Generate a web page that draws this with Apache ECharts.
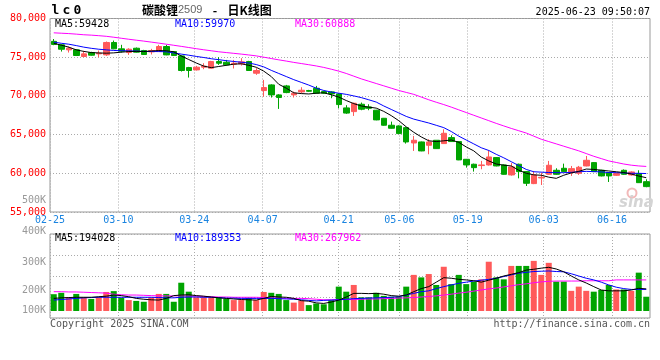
<!DOCTYPE html>
<html>
<head>
<meta charset="utf-8">
<script src="https://cdn.jsdelivr.net/npm/echarts@6/dist/echarts.min.js"></script>
<style>
html,body{margin:0;padding:0;background:#fff;}
#chart{width:660px;height:360px;}
</style>
</head>
<body>
<div id="chart"></div>
<script>
// ---------- data ----------
const DATES = ['02-25','02-26','02-27','02-28','03-03','03-04','03-05','03-06','03-07','03-10',
'03-11','03-12','03-13','03-14','03-17','03-18','03-19','03-20','03-21','03-24',
'03-25','03-26','03-27','03-28','03-31','04-01','04-02','04-03','04-07','04-08',
'04-09','04-10','04-11','04-14','04-15','04-16','04-17','04-18','04-21','04-22',
'04-23','04-24','04-25','04-28','04-29','04-30','05-06','05-07','05-08','05-09',
'05-12','05-13','05-14','05-15','05-16','05-19','05-20','05-21','05-22','05-23',
'05-26','05-27','05-28','05-29','05-30','06-03','06-04','06-05','06-06','06-09',
'06-10','06-11','06-12','06-13','06-16','06-17','06-18','06-19','06-20','06-23'];

const OPEN = [77050,76600,75950,75950,75090,75600,75430,75300,76900,76080,
75600,76160,75860,75690,75730,76380,75730,75170,73660,73360,
73710,73580,74440,74350,74100,74140,74440,72930,70690,71420,
70130,71290,70130,70520,70690,70990,70560,70520,70250,68450,
67970,68920,68580,68150,67110,66210,66120,65900,63920,64050,
63620,64270,63840,64610,64100,61810,61170,61000,61080,62030,
61080,59790,61170,60220,58670,59400,59870,60390,60650,60090,
60000,60950,61380,60390,60090,59740,60390,59790,59960,58920];
const CLOSE = [76650,76030,76160,75220,75430,75260,75520,76900,76080,75780,
76030,75650,75350,75860,76380,75300,75220,73280,73280,73710,
73840,74440,74220,74010,74220,74400,73280,73280,71080,70130,
69790,70430,70350,70730,70600,70350,70350,70260,68880,67780,
69050,68280,68400,66900,66210,65820,65130,64050,64270,62890,
64050,63190,65170,64100,61730,61080,60730,61080,62110,60950,
59870,60820,60220,58710,59790,59480,61040,59870,60220,60600,
60780,61680,60220,59660,59660,59960,59870,60170,58790,58280];
const LOW = [76550,75730,75600,75150,75000,75200,75000,75170,76030,75600,
75300,75600,75300,75350,75700,75250,75150,73150,72370,73280,
73450,73540,74010,73920,73540,73920,73230,72720,69910,69790,
68320,70350,69790,70350,70520,70300,70260,69700,68400,67680,
67410,68150,68150,66850,66150,65780,65100,63840,62890,62850,
62460,63150,63800,64050,61700,60730,60220,60520,61000,60900,
59830,59700,59350,58360,58600,58490,59800,59800,60150,59660,
59790,60900,60150,59600,58880,59650,59800,59700,58750,58200];
const HIGH = [77350,76680,76380,76000,75820,75700,75860,77030,77150,76600,
76160,76250,75950,76080,76600,76600,75800,75250,73750,73880,
74220,74530,75000,74650,74650,74870,74530,73580,72070,71500,
70220,71420,70560,71120,70780,71290,70650,70600,70350,68800,
69140,69140,68920,68200,67150,66680,66200,65950,64830,64100,
64400,64300,65690,64910,64150,61850,61250,61600,62980,62100,
61150,61340,61250,60300,60300,60090,61600,60650,61250,60950,
60950,62240,61450,60450,60150,60050,60500,60250,60390,59230];

const MA5 = [76800,76550,76300,75950,75750,75600,75550,75520,75560,75650,
75730,75750,75730,75800,75860,75830,75700,75150,74700,74250,
73850,73650,73800,73950,74100,74150,73950,73700,73200,72500,
71500,71000,70400,70300,70250,70350,70400,70150,69850,69400,
69000,68700,68550,68420,68000,67450,66800,66000,65300,64700,
64200,64100,64200,64300,64000,63400,62900,62100,61600,61200,
61050,60950,60400,60000,59800,59750,59500,59350,59750,60050,
60250,60550,60500,60400,60300,60200,60100,59900,59650,59428];
const MA10 = [76950,76800,76680,76500,76300,76150,76030,75950,75870,75840,
75820,75800,75750,75730,75730,75700,75550,75400,75260,75100,
74960,74800,74680,74550,74450,74350,74250,74050,73750,73300,
72900,72500,72100,71750,71400,71000,70700,70500,70350,70200,
70000,69780,69500,69200,68700,68250,67800,67350,67000,66750,
66500,66200,65900,65400,64800,64300,63800,63300,62950,62450,
62000,61500,61000,60500,60200,60150,60100,60080,60080,60120,
60200,60250,60220,60180,60100,60080,60050,60000,60000,59970];
const MA30 = [78150,78100,78050,77980,77900,77850,77780,77700,77580,77450,
77320,77200,77080,76950,76820,76680,76540,76400,76250,76100,
75960,75830,75700,75600,75500,75400,75290,75170,75000,74830,
74660,74500,74330,74180,74030,73870,73680,73450,73200,72900,
72550,72200,71900,71600,71300,71000,70700,70450,70200,69850,
69500,69180,68880,68550,68200,67850,67500,67150,66800,66450,
66120,65800,65500,65200,64800,64400,64100,63800,63500,63200,
62900,62550,62200,61900,61600,61400,61200,61050,60950,60888];

const VOLUME = [185000,190000,174000,186000,174000,168000,174000,193000,196000,172000,
164000,161000,158000,174000,186000,186000,158000,226000,194000,174000,
174000,174000,174000,168000,164000,164000,172000,164000,193000,190000,
186000,164000,155000,162000,146000,152000,149000,164000,212000,194000,
218000,174000,174000,190000,179000,176000,176000,212000,254000,245000,
257000,218000,283000,221000,254000,221000,230000,238000,301000,245000,
238000,286000,286000,286000,304000,254000,297000,230000,230000,197000,
212000,197000,194000,200000,218000,202000,202000,197000,262000,176000];
const VOL_MA5 = [170000,172000,173000,174000,174000,174000,176000,178000,182000,180000,
176000,170000,167000,165000,164000,170000,180000,182000,183000,180000,
178000,175000,172000,170000,168000,166000,165000,164000,170000,177000,
175000,174000,170000,162000,160000,154000,152000,157000,164000,175000,
188000,188000,187000,188000,185000,180000,178000,182000,194000,205000,
212000,228000,244000,242000,238000,236000,233000,228000,235000,242000,
250000,256000,262000,271000,274000,278000,281000,275000,265000,250000,
236000,225000,212000,200000,197000,197000,197000,200000,206000,204000];
const VOL_MA10 = [164000,166000,168000,170000,172000,173000,174000,174000,174000,174000,
174000,174000,174000,174000,173000,172000,172000,174000,175000,175000,
174000,174000,173000,171000,171000,170000,170000,170000,170000,170000,
169000,168000,167000,165000,163000,161000,163000,164000,165000,167000,
169000,170000,171000,172000,173000,174000,176000,182000,188000,194000,
197000,205000,212000,218000,224000,228000,232000,235000,238000,242000,
248000,254000,260000,263000,266000,267000,268000,266000,265000,258000,
250000,242000,236000,228000,218000,210000,205000,202000,202000,202000];
const VOL_MA30 = [194000,194000,193000,193000,192000,191000,190000,189000,185000,183000,
182000,182000,181000,180000,179000,179000,179000,179000,178000,178000,
177000,176000,175000,175000,174000,174000,174000,174000,173000,172000,
171000,170000,170000,170000,169000,167000,165000,165000,166000,166000,
166000,167000,168000,168000,169000,170000,171000,172000,173000,175000,
177000,179000,182000,185000,189000,192000,196000,200000,204000,207000,
211000,215000,219000,222000,226000,229000,231000,232000,232000,232000,
232000,233000,233000,233000,233000,236000,236000,236000,236000,236000];

const LABEL_IDX = [0, 9, 19, 28, 38, 46, 55, 65, 74];
const PRICE_MIN = 55000, PRICE_MAX = 80000, PRICE_STEP = 5000;
const VOL_MIN = 100000, VOL_MAX = 400000, VOL_STEP = 100000;
const VOL_BASE = 125000;

// ---------- chart ----------
const MONO = "'DejaVu Sans Mono', 'Liberation Mono', monospace";
const CJK = "'Noto Sans CJK SC', sans-serif";
const UP = '#ff5a5a', DOWN = '#00a400';
const GRIDC = '#aaaaaa';

const chart = echarts.init(document.getElementById('chart'), null, {renderer: 'canvas'});

function hiddenCat(grid) {
  return {type: 'category', gridIndex: grid, data: DATES, boundaryGap: true, position: 'bottom',
    axisLine: {show: false}, axisTick: {show: false}, axisLabel: {show: false}, splitLine: {show: false}};
}
function txt(x, y, text, fill, extra) {
  return Object.assign({
    type: 'text', x: x, y: y, z: 100, silent: true,
    style: Object.assign({text: text, fill: fill, font: '10px ' + MONO,
      align: 'left', verticalAlign: 'middle', textAlign: 'left', textVerticalAlign: 'middle'}, (extra || {}))
  });
}
const dotted = {show: true, lineStyle: {color: GRIDC, type: [1, 2], width: 1}};
const isUp = i => CLOSE[i] >= OPEN[i];

const option = {
  animation: false,
  backgroundColor: '#ffffff',
  textStyle: {fontFamily: MONO},
  grid: [
    {left: 50, top: 18.5, width: 600, height: 193.5, show: true, borderColor: '#999', borderWidth: 1, backgroundColor: 'transparent'},
    {left: 50, top: 234, width: 600, height: 84, show: true, borderColor: '#999', borderWidth: 1, backgroundColor: 'transparent'}
  ],
  xAxis: [
    hiddenCat(0),
    {type: 'value', gridIndex: 0, min: 0, max: DATES.length - 1, position: 'bottom',
      axisLine: {show: false}, axisTick: {show: false, customValues: LABEL_IDX},
      axisLabel: {show: true, customValues: LABEL_IDX, formatter: v => DATES[v], color: '#1a84e0',
        fontFamily: MONO, fontSize: 10, margin: 3},
      splitLine: dotted},
    hiddenCat(1),
    {type: 'value', gridIndex: 1, min: 0, max: DATES.length - 1, position: 'bottom',
      axisLine: {show: false}, axisTick: {show: false, customValues: LABEL_IDX},
      axisLabel: {show: false}, splitLine: dotted}
  ],
  yAxis: [
    {type: 'value', gridIndex: 0, min: PRICE_MIN, max: PRICE_MAX, interval: PRICE_STEP, position: 'left',
      axisLine: {show: false}, axisTick: {show: false},
      axisLabel: {color: '#ff0000', fontFamily: MONO, fontSize: 10, margin: 4},
      splitLine: dotted},
    {type: 'value', gridIndex: 1, min: VOL_MIN, max: VOL_MAX, interval: VOL_STEP, position: 'left',
      axisLine: {show: false}, axisTick: {show: false}, splitLine: {show: false},
      axisLabel: {color: '#999', fontFamily: MONO, fontSize: 10, margin: 4,
        formatter: v => {
          const s = (v / 1000) + 'K';
          if (v === VOL_MAX) return '{t|' + s + '}';
          if (v === VOL_MIN) return '{b|' + s + '}';
          return s;
        },
        rich: {
          t: {color: '#999', fontFamily: MONO, fontSize: 10, padding: [0, 0, 6, 0]},
          b: {color: '#999', fontFamily: MONO, fontSize: 10, padding: [0, 0, 16, 0]}
        }}},
    {type: 'value', gridIndex: 1, min: 0, max: 4, interval: 1, position: 'right',
      axisLine: {show: false}, axisTick: {show: false}, axisLabel: {show: false}, splitLine: dotted}
  ],
  series: [
    {type: 'candlestick', xAxisIndex: 0, yAxisIndex: 0, barWidth: 6, silent: true,
      data: DATES.map((d, i) => [OPEN[i], CLOSE[i], LOW[i], HIGH[i]]),
      itemStyle: {color: UP, color0: DOWN, borderColor: UP, borderColor0: DOWN, borderWidth: 1}},
    {type: 'line', xAxisIndex: 0, yAxisIndex: 0, data: MA30, symbol: 'none', silent: true, lineStyle: {color: '#ff00ff', width: 1}},
    {type: 'line', xAxisIndex: 0, yAxisIndex: 0, data: MA10, symbol: 'none', silent: true, lineStyle: {color: '#0000ff', width: 1}},
    {type: 'line', xAxisIndex: 0, yAxisIndex: 0, data: MA5, symbol: 'none', silent: true, lineStyle: {color: '#000000', width: 1}},
    {type: 'bar', xAxisIndex: 2, yAxisIndex: 1, stack: 'vol', barWidth: 6, silent: true,
      data: DATES.map(() => VOL_BASE), itemStyle: {color: 'rgba(0,0,0,0)'}},
    {type: 'bar', xAxisIndex: 2, yAxisIndex: 1, stack: 'vol', barWidth: 6, silent: true,
      data: VOLUME.map((v, i) => ({value: v - VOL_BASE, itemStyle: {color: isUp(i) ? UP : DOWN}}))},
    {type: 'line', xAxisIndex: 2, yAxisIndex: 1, data: VOL_MA30, symbol: 'none', silent: true, lineStyle: {color: '#ff00ff', width: 1}},
    {type: 'line', xAxisIndex: 2, yAxisIndex: 1, data: VOL_MA10, symbol: 'none', silent: true, lineStyle: {color: '#0000ff', width: 1}},
    {type: 'line', xAxisIndex: 2, yAxisIndex: 1, data: VOL_MA5, symbol: 'none', silent: true, lineStyle: {color: '#000000', width: 1}}
  ],
  graphic: [
    // sina watermark
    {type: 'circle', z: 1, silent: true, shape: {cx: 632, cy: 193, r: 4.5}, style: {fill: 'none', stroke: '#f2b9b9', lineWidth: 2}},
    txt(619, 203, 'sina', '#d4d4d4', {font: 'italic bold 15px ' + "'DejaVu Sans', sans-serif"}),
    // header
    txt(50, 11, '{c|l}{c|c}{c|0}', '#000', {rich: {c: {width: 11, align: 'center', fill: '#000', font: 'bold 13px ' + MONO}}}),
    txt(142, 10, '{a|碳酸锂}{b|2509}{s|-}{a|日K线图}', '#000', {rich: {
      a: {fill: '#000', font: 'bold 12px ' + CJK},
      b: {fill: '#666', font: '11px ' + "'Liberation Sans', sans-serif"},
      s: {fill: '#000', font: 'bold 12px ' + CJK, width: 25, align: 'center'}
    }}),
    txt(650, 12, '2025-06-23 09:50:07', '#000', {align: 'right', textAlign: 'right'}),
    txt(55, 24, 'MA5:59428', '#000'),
    txt(175, 24, 'MA10:59970', '#0000ff'),
    txt(295, 24, 'MA30:60888', '#ff00ff'),
    txt(46, 200, '500K', '#999', {align: 'right', textAlign: 'right'}),
    txt(55, 238, 'MA5:194028', '#000'),
    txt(175, 238, 'MA10:189353', '#0000ff'),
    txt(295, 238, 'MA30:267962', '#ff00ff'),
    txt(50, 324, 'Copyright 2025 SINA.COM', '#555'),
    txt(650, 324, 'http://finance.sina.com.cn', '#555', {align: 'right', textAlign: 'right'})
  ]
};
chart.setOption(option);
</script>
</body>
</html>
